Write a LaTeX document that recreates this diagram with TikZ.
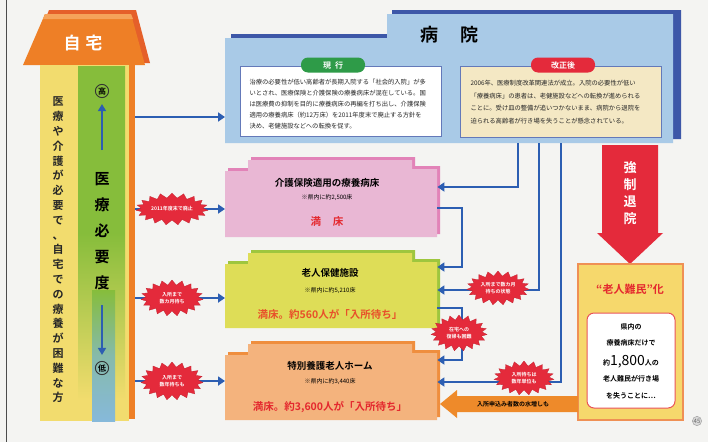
\documentclass[tikz,border=0pt]{standalone}
\usepackage{fontspec}
\setmainfont{Noto Sans CJK JP}[BoldFont={Noto Sans CJK JP Bold}]
\usetikzlibrary{shapes.symbols,arrows.meta,calc}
\definecolor{bgc}{HTML}{F4F4F2}
\definecolor{roof}{HTML}{EE7F26}
\definecolor{roofd}{HTML}{E5602A}
\definecolor{roofl}{HTML}{F5A35A}
\definecolor{ycol}{HTML}{F2DC6E}
\definecolor{gcol}{HTML}{86BD3B}
\definecolor{bcol}{HTML}{86B9DA}
\definecolor{cblue}{HTML}{2C5EB2}
\definecolor{hfill}{HTML}{A9CAE7}
\definecolor{hdark}{HTML}{3D57A8}
\definecolor{pfill}{HTML}{E9B7D4}
\definecolor{pdark}{HTML}{E283B8}
\definecolor{gfill}{HTML}{DEDD57}
\definecolor{gdark}{HTML}{9EC63E}
\definecolor{ofill}{HTML}{F4B37D}
\definecolor{odark}{HTML}{EF8E3E}
\definecolor{bred}{HTML}{E42A3B}
\definecolor{cream}{HTML}{F4E8C4}
\definecolor{pillg}{HTML}{2E9B48}
\definecolor{rbox}{HTML}{F6D86C}
\definecolor{rboxb}{HTML}{EF9055}
\definecolor{txtred}{HTML}{E4282E}
\definecolor{txtor}{HTML}{E8502A}
\definecolor{arrowor}{HTML}{EE8A2A}
\newcommand{\tierbox}[6]{%
  \fill[#6,shift={(3,-3)}] (#1,#4) -- (#1,{#2+11}) -- ({#1+23},{#2+11}) -- ({#1+23},#2) -- ({#3-25},#2) -- ({#3-25},{#2+9}) -- (#3,{#2+9}) -- (#3,#4) -- cycle;
  \fill[#5] (#1,#4) -- (#1,{#2+11}) -- ({#1+23},{#2+11}) -- ({#1+23},#2) -- ({#3-25},#2) -- ({#3-25},{#2+9}) -- (#3,{#2+9}) -- (#3,#4) -- cycle;}
\begin{document}
\begin{tikzpicture}[x=1pt,y=-1pt,
  conn/.style={draw=cblue, line width=2.3pt, -{Triangle[length=7pt,width=9pt]}},
  burst/.style={starburst, starburst points=19, starburst point height=5pt, random starburst=0,
    fill=bred, draw=bred!85!black, line width=0.3pt, text=white,
    font=\bfseries\fontsize{5}{6.5}\selectfont, align=center, inner sep=1pt},
  ttl/.style={font=\bfseries\fontsize{9.5}{10}\selectfont, text=black},
  sub/.style={font=\fontsize{6}{7}\selectfont, text=black},
  note/.style={font=\bfseries\fontsize{10.5}{11}\selectfont},
  para/.style={font=\fontsize{6.3}{11}\selectfont, align=left, text=black!85},
  pill/.style={rounded corners=7pt, minimum width=64pt, minimum height=15pt, inner sep=0pt,
    text=white, font=\bfseries\fontsize{8}{8}\selectfont},
  rline/.style={font=\bfseries\fontsize{7}{7}\selectfont, text=black}
]
\useasboundingbox (0,0) rectangle (708,442);
\fill[bgc] (0,0) rectangle (708,442);
\draw[black!70, line width=0.8pt] (6,0) -- (6,442);

% ---------- house ----------
\fill[roofd] (28,63) -- (49,10) -- (136,10) -- (150,63) -- cycle;
\fill[roof] (23,65) -- (45,14) -- (131,14) -- (145,65) -- cycle;
\fill[roofl] (45,14) -- (131,14) -- (133,19) -- (43,19) -- cycle;
\node[font=\bfseries\fontsize{17}{17}\selectfont, text=white] (homelabel) at (83,43) {自\hspace{5pt}宅};
\fill[roof] (128,65) rectangle (135,419);
\fill[ycol] (40,65) rectangle (129,421);
\shade[top color=gcol, bottom color=ycol, middle color=gcol] (78,66) rectangle (125,400);
\shade[top color=gcol, bottom color=bcol, middle color=bcol!70!gcol] (92,290) rectangle (115,421);
\node[anchor=north west, minimum width=95pt, minimum height=356pt, inner sep=0pt] (home) at (40,65) {};
\node[font=\bfseries\fontsize{11}{14.8}\selectfont, align=center, text=black!85] (leftv) at (58,250)
 {医\\療\\や\\介\\護\\が\\必\\要\\で\\、\\自\\宅\\で\\の\\療\\養\\が\\困\\難\\な\\方};
\node[circle, draw=black!80, line width=0.9pt, inner sep=0.8pt, font=\bfseries\fontsize{8}{8}\selectfont] (hi) at (102,91) {高};
\node[circle, draw=black!80, line width=0.9pt, inner sep=0.8pt, font=\bfseries\fontsize{8}{8}\selectfont] (lo) at (102,368) {低};
\node[font=\bfseries\fontsize{15}{26}\selectfont, align=center, text=black] (need) at (102,231) {医\\療\\必\\要\\度};
\coordinate (upstart) at (102,150);
\coordinate (downstart) at (102,305);
\draw[cblue, line width=1.4pt, -{Triangle[length=7pt,width=8pt]}] (upstart) -- ([yshift=-6pt]hi.south);
\draw[cblue, line width=1.4pt, -{Triangle[length=7pt,width=8pt]}] (downstart) -- ([yshift=6pt]lo.north);

% ---------- hospital ----------
\fill[hdark] (231,139) -- (231,34) -- (392,34) -- (392,10) -- (681,10) -- (681,139) -- cycle;
\fill[hfill] (225,143) -- (225,38) -- (387,38) -- (387,14) -- (673,14) -- (673,143) -- cycle;
\node[anchor=north west, minimum width=448pt, minimum height=129pt, inner sep=0pt] (hosp) at (225,14) {};
\node[font=\bfseries\fontsize{18}{18}\selectfont] (hosptitle) at (449,35) {病\hspace{22pt}院};
\draw[fill=white, draw=hdark!80, line width=1pt] (240,66) rectangle (441,136);
\node[pill, fill=pillg] (genko) at (333,65) {現\hspace{4pt}行};
\node[para, anchor=north west] (genkotxt) at (246,76) {%
治療の必要性が低い高齢者が長期入院する「社会的入院」が多\\
いとされ、医療保険と介護保険の療養病床が混在している。国\\
は医療費の抑制を目的に療養病床の再編を打ち出し、介護保険\\
適用の療養病床（約12万床）を2011年度末で廃止する方針を\\
決め、老健施設などへの転換を促す。};
\draw[fill=cream, draw=hdark!80, line width=1pt] (460,66) rectangle (661,137);
\node[pill, fill=bred] (kaisei) at (563,65) {改正後};
\node[para, anchor=north west, font=\fontsize{6.3}{12.5}\selectfont] (kaiseitxt) at (467,77) {%
2006年、医療制度改革関連法が成立。入院の必要性が低い\\
「療養病床」の患者は、老健施設などへの転換が進められる\\
ことに。受け皿の整備が追いつかないまま、病院から退院を\\
迫られる高齢者が行き場を失うことが懸念されている。};

% ---------- care boxes ----------
\tierbox{225}{160}{437}{237}{pfill}{pdark}
\node[anchor=north west, minimum width=212pt, minimum height=77pt, inner sep=0pt] (pink) at (225,160) {};
\node[ttl] at (327,183) {介護保険適用の療養病床};
\node[sub] at (327,198) {※県内に約2,500床};
\node[note, text=txtred] at (327,222) {満\hspace{12pt}床};

\tierbox{225}{253}{437}{328}{gfill}{gdark}
\node[anchor=north west, minimum width=212pt, minimum height=75pt, inner sep=0pt] (yel) at (225,253) {};
\node[ttl] at (330,273) {老人保健施設};
\node[sub] at (330,291) {※県内に約5,210床};
\node[note, text=txtor] at (330,314) {満床。約560人が「入所待ち」};

\tierbox{225}{344}{437}{420}{ofill}{odark}
\node[anchor=north west, minimum width=212pt, minimum height=76pt, inner sep=0pt] (ora) at (225,344) {};
\node[ttl] at (330,366) {特別養護老人ホーム};
\node[sub] at (330,382) {※県内に約3,440床};
\node[note, text=txtred] at (330,407) {満床。約3,600人が「入所待ち」};

% ---------- connectors from home ----------
\draw[conn] (home.east |- 0,117) -- (hosp.west |- 0,117);
\draw[conn] (home.east |- 0,209) -- (pink.west |- 0,209);
\draw[conn] (home.east |- 0,298) -- (yel.west |- 0,298);
\draw[conn] (home.east |- 0,381) -- (ora.west |- 0,381);
\node[burst, minimum width=62pt, minimum height=32pt] (b1) at (172,209) {2011年度末で廃止};
\node[burst, minimum width=62pt, minimum height=36pt] (b2) at (172,298) {入所まで\\数カ月待ち};
\node[burst, minimum width=62pt, minimum height=38pt] (b3) at (172,381) {入所まで\\数年待ちも};

% ---------- connectors from hospital ----------
\draw[conn] (hosp.south -| 518,0) |- (pink.east |- 0,187);
\draw[conn] (pink.east |- 0,208) -| (462,240) |- (yel.east |- 0,267);
\draw[conn] (hosp.south -| 539,0) |- (yel.east |- 0,290);
\draw[conn] (yel.east |- 0,308) -| (462,340) |- (ora.east |- 0,360);
\draw[conn] (hosp.south -| 561,0) |- (ora.east |- 0,382);
\node[burst, minimum width=62pt, minimum height=34pt] (b4) at (498,288) {入所まで数カ月\\待ちの状態};
\node[burst, minimum width=56pt, minimum height=36pt] (b5) at (459,333) {在宅への\\復帰も困難};
\node[burst, minimum width=60pt, minimum height=34pt] (b6) at (524,378) {入所待ちは\\数年単位も};

% ---------- forced discharge ----------
\fill[bred] (602,145) -- (658,145) -- (658,233) -- (663,233) -- (630,264) -- (597,233) -- (602,233) -- cycle;
\node[font=\bfseries\fontsize{13}{17}\selectfont, text=white, align=center] (kyosei) at (630,193) {強\\制\\退\\院};

\draw[fill=rbox, draw=rboxb, line width=1.2pt] (578,264) rectangle (683,420);
\node[anchor=north west, minimum width=105pt, minimum height=156pt, inner sep=0pt] (rb) at (578,264) {};
\node[font=\bfseries\fontsize{11}{11}\selectfont, text=txtred] at (630,289) {“老人難民”化};
\draw[fill=white, draw=txtred!80, line width=1pt, rounded corners=7pt] (587,313) rectangle (675,408);
\node[rline] at (631,327) {県内の};
\node[rline] at (631,343) {療養病床だけで};
\node[rline] at (631,362) {約{\fontsize{14}{14}\selectfont\mdseries 1,800}人の};
\node[rline] at (631,379) {老人難民が行き場};
\node[rline] at (631,396) {を失うことに…};

% orange arrow
\fill[arrowor] (rb.west |- 0,396) -- (457,396) -- (457,390) -- (440,404) -- (457,418) -- (457,412) -- (rb.west |- 0,412) -- cycle;
\node[font=\bfseries\fontsize{6}{6}\selectfont, text=black] (oarrow) at (513,404) {入所申込み者数の水増しも};

% page mark
\node[circle, draw=black!40, fill=black!15, inner sep=0.5pt, font=\fontsize{6}{6}\selectfont, text=black!60] (pg) at (697,421) {45};
\end{tikzpicture}
\end{document}
